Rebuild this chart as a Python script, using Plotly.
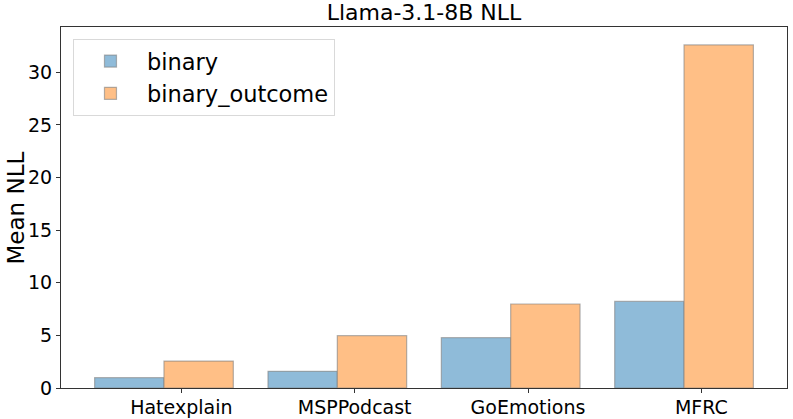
import plotly.graph_objects as go

categories = ["Hatexplain", "MSPPodcast", "GoEmotions", "MFRC"]
binary = [0.98, 1.58, 4.78, 8.23]
binary_outcome = [2.56, 4.97, 7.98, 32.6]
y_ticks = [0, 5, 10, 15, 20, 25, 30]

width = 0.4
pos = list(range(len(categories)))

fig = go.Figure()
fig.add_trace(go.Bar(
    x=[p - 0.2 for p in pos], y=binary, width=width, name="binary",
    marker=dict(color="rgba(143,187,217,1)", line=dict(color="rgba(128,128,128,0.6)", width=1.2)),
))
fig.add_trace(go.Bar(
    x=[p + 0.2 for p in pos], y=binary_outcome, width=width, name="binary_outcome",
    marker=dict(color="rgba(255,191,134,1)", line=dict(color="rgba(128,128,128,0.6)", width=1.2)),
))

fig.update_layout(
    width=793, height=419,
    margin=dict(l=61, r=6, t=27, b=31),
    paper_bgcolor="white", plot_bgcolor="white",
    font=dict(family="DejaVu Sans", color="black", size=19),
    title=dict(text="Llama-3.1-8B NLL", x=0.5, xref="paper", xanchor="center",
               y=0.988, yanchor="top", font=dict(size=22)),
    barmode="overlay",
    showlegend=True,
    legend=dict(x=0.0165, y=0.967, xanchor="left", yanchor="top",
                bordercolor="#d9d9d9", borderwidth=1, bgcolor="rgba(255,255,255,0.8)",
                font=dict(size=22.5), itemwidth=63, tracegroupgap=4),
    xaxis=dict(range=[-0.594, 3.594], tickvals=[p + 0.1 for p in pos], ticktext=categories,
               showline=True, linecolor="#333", linewidth=1, mirror=True, automargin=False,
               ticks="outside", ticklen=4, tickcolor="#333", showgrid=False, zeroline=False,
               ticklabelstandoff=-2),
    yaxis=dict(range=[0, 34.3], tickvals=y_ticks, automargin=False,
               showline=True, linecolor="#333", linewidth=1, mirror=True,
               ticks="outside", ticklen=4, tickcolor="#333", showgrid=False, zeroline=False),
    annotations=[dict(text="Mean NLL", textangle=-90, xref="paper", yref="paper",
                      x=-0.062, y=0.5, xanchor="center", yanchor="middle",
                      showarrow=False, font=dict(size=23))],
)

fig.write_html("out.html", config={"displayModeBar": False},
               post_script="document.body.style.margin='0';document.body.style.padding='0';")
